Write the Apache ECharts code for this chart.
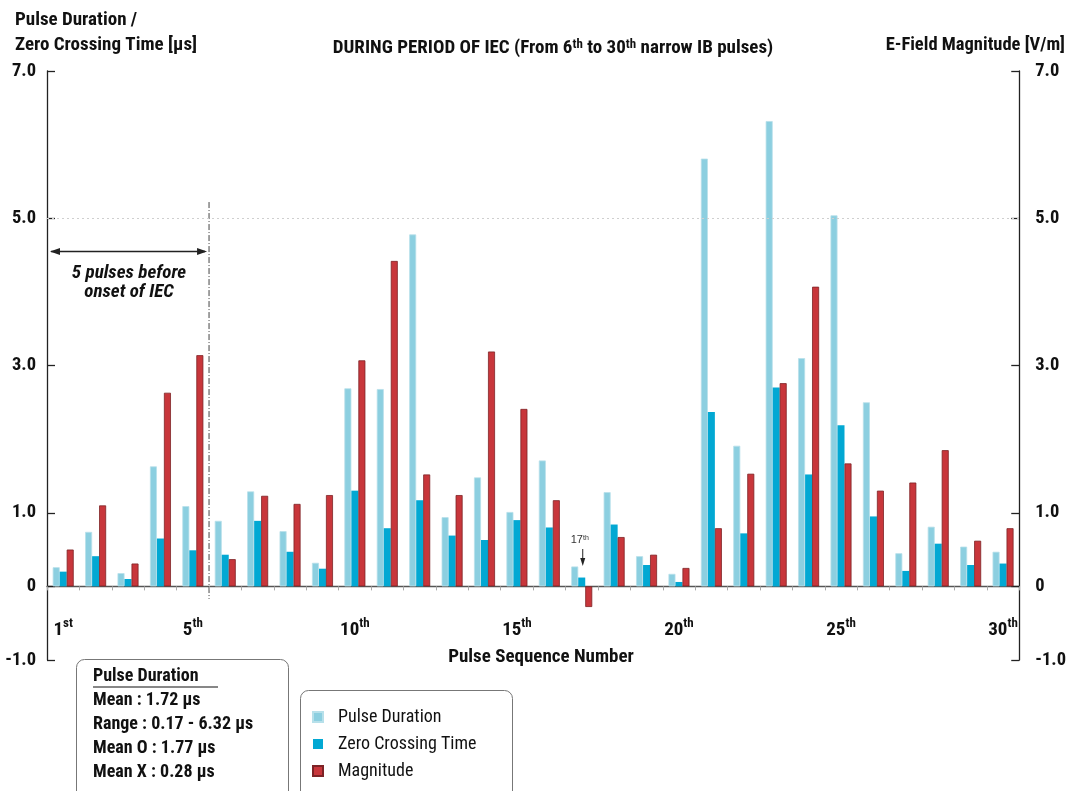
<!DOCTYPE html>
<html>
<head>
<meta charset="utf-8">
<script src="https://cdn.jsdelivr.net/npm/echarts@6/dist/echarts.min.js"></script>
<style>
  html, body { margin: 0; padding: 0; background: #fff; }
  #chart { width: 1069px; height: 791px; }
</style>
</head>
<body>
<div id="chart"></div>
<script>
// Pulse sequence numbers (categories)
const pulseNumbers = ['1','2','3','4','5','6','7','8','9','10','11','12','13','14','15',
                      '16','17','18','19','20','21','22','23','24','25','26','27','28','29','30'];
// Pulse numbers that get an ordinal label under the axis
const labelledPulses = [1, 5, 10, 15, 20, 25, 30];

// Pulse duration [µs]
const pulseDuration = [0.26, 0.74, 0.18, 1.63, 1.09, 0.89, 1.29, 0.75, 0.32, 2.69,
                       2.68, 4.78, 0.94, 1.48, 1.01, 1.71, 0.27, 1.28, 0.41, 0.17,
                       5.81, 1.91, 6.32, 3.10, 5.04, 2.50, 0.45, 0.81, 0.54, 0.47];
// Zero crossing time [µs]
const zeroCrossing = [0.20, 0.41, 0.10, 0.65, 0.49, 0.43, 0.89, 0.47, 0.24, 1.30,
                      0.79, 1.17, 0.69, 0.63, 0.90, 0.80, 0.12, 0.84, 0.29, 0.06,
                      2.37, 0.72, 2.70, 1.52, 2.19, 0.95, 0.21, 0.58, 0.29, 0.31];
// E-field magnitude [V/m]
const magnitude = [0.50, 1.10, 0.31, 2.63, 3.14, 0.37, 1.23, 1.12, 1.24, 3.07,
                   4.42, 1.52, 1.24, 3.19, 2.41, 1.17, -0.28, 0.67, 0.43, 0.25,
                   0.79, 1.53, 2.76, 4.07, 1.67, 1.30, 1.41, 1.85, 0.62, 0.79];

// Value axis range and ticks (both sides share the same scale)
const yMin = -1;
const yMax = 7;
const yTicks = [-1, 0, 1, 3, 5, 7];

// Summary statistics for pulse duration
const statsTitle = 'Pulse Duration';
const statsLines = ['Mean : 1.72 µs', 'Range : 0.17 - 6.32 µs', 'Mean O : 1.77 µs', 'Mean X : 0.28 µs'];

const FONT = "'Liberation Sans Narrow','Arial Narrow','Roboto Condensed','Liberation Sans',sans-serif";
const C_LIGHT = '#8ccfe0';
const C_DARK = '#02a8d3';
const C_RED = '#c8363b';

const GRID = { left: 47, right: 42, top: 71, bottom: 131 };
const plotHeight = 791 - GRID.top - GRID.bottom;
// the category axis sits on the zero line: shift it up from the grid bottom
const zeroOffset = -plotHeight * (0 - yMin) / (yMax - yMin);

function suffix(n) { return n === 1 ? 'st' : n === 2 ? 'nd' : n === 3 ? 'rd' : 'th'; }

const chart = echarts.init(document.getElementById('chart'), null, { renderer: 'canvas' });

const valueAxis = (pos, margin) => ({
  type: 'value',
  position: pos,
  min: yMin,
  max: yMax,
  interval: 1,
  axisLine: { show: true, onZero: false, lineStyle: { color: '#222', width: 1.3 } },
  axisTick: { show: true, inside: true, length: 8, customValues: yTicks, lineStyle: { color: '#222', width: 1.3 } },
  axisLabel: {
    customValues: yTicks,
    margin: margin,
    fontFamily: FONT, fontSize: 18.5, fontWeight: 'bold', color: '#111',
    formatter: v => (v === 0 ? '0' : v.toFixed(1))
  },
  splitLine: { show: false }
});

const bar = (name, data, color, border, axis) => ({
  name, type: 'bar', data, yAxisIndex: axis,
  barWidth: 7, barGap: '0%',
  itemStyle: { color, borderColor: border, borderWidth: border ? 0.8 : 0 },
  emphasis: { disabled: true },
  animation: false
});

const option = {
  backgroundColor: '#fff',
  animation: false,
  grid: Object.assign({ containLabel: false }, GRID),
  xAxis: {
    type: 'category',
    data: pulseNumbers,
    position: 'bottom',
    offset: zeroOffset,
    axisLine: { onZero: false, lineStyle: { color: '#555', width: 1.3 } },
    axisTick: { show: true, interval: 0, length: 4, lineStyle: { color: '#aaa' } },
    axisLabel: {
      margin: 31,
      interval: (i) => labelledPulses.indexOf(i + 1) >= 0,
      formatter: (v) => '{n|' + v + '}{s|' + suffix(+v) + '}',
      rich: {
        n: { fontFamily: FONT, fontSize: 19, fontWeight: 'bold', color: '#111', lineHeight: 22, verticalAlign: 'bottom' },
        s: { fontFamily: FONT, fontSize: 13, fontWeight: 'bold', color: '#111', verticalAlign: 'top', lineHeight: 12 }
      }
    },
    splitLine: { show: false }
  },
  yAxis: [valueAxis('left', 11), valueAxis('right', 16)],
  legend: {
    orient: 'vertical',
    left: 307,
    top: 703,
    itemWidth: 10,
    itemHeight: 10,
    itemGap: 9,
    icon: 'rect',
    selectedMode: false,
    textStyle: { fontFamily: FONT, fontSize: 18, color: '#111', padding: [0, 0, 0, 10] },
    data: ['Pulse Duration', 'Zero Crossing Time', 'Magnitude']
  },
  series: [
    Object.assign(bar('Pulse Duration', pulseDuration, C_LIGHT, '#b7e0ea', 0), {
      markLine: {
        silent: true, symbol: 'none', label: { show: false },
        lineStyle: { color: '#cfcfcf', type: [2, 3], width: 1 },
        data: [{ yAxis: 5 }]
      }
    }),
    bar('Zero Crossing Time', zeroCrossing, C_DARK, null, 0),
    bar('Magnitude', magnitude, C_RED, '#7d2326', 1)
  ]
};

chart.setOption(option);

// Annotation geometry derived from the axes
const xAt = (i) => chart.convertToPixel({ xAxisIndex: 0 }, i);
const yAt = (v) => chart.convertToPixel({ yAxisIndex: 0 }, v);
const leftEdge = GRID.left;
const onsetX = (xAt(4) + xAt(5)) / 2;     // boundary between the 5th and 6th pulse
const arrowY = yAt(4.55);
const p17x = xAt(16);

const headL = (x, y) => ({ type: 'polygon', shape: { points: [[x, y], [x + 10, y - 3.5], [x + 10, y + 3.5]] }, style: { fill: '#222' } });
const headR = (x, y) => ({ type: 'polygon', shape: { points: [[x, y], [x - 10, y - 3.5], [x - 10, y + 3.5]] }, style: { fill: '#222' } });

const txt = (x, y, text, extra) => ({
  type: 'text', x, y,
  style: Object.assign({ text, fontFamily: FONT, fontSize: 18, fontWeight: 'bold', fill: '#111', verticalAlign: 'middle' }, extra || {})
});

const graphics = [
  // axis titles and chart title
  txt(15, 20, 'Pulse Duration /', { fontSize: 19 }),
  txt(15, 45, 'Zero Crossing Time [µs]', { fontSize: 19 }),
  txt(1065, 45, 'E-Field Magnitude [V/m]', { fontSize: 18.5, align: 'right' }),
  {
    type: 'text', x: 553, y: 48,
    style: {
      text: 'DURING PERIOD OF IEC (From 6{s|th} to 30{s|th} narrow IB pulses)',
      fontFamily: FONT, fontSize: 19, fontWeight: 'bold', fill: '#111',
      align: 'center', verticalAlign: 'middle',
      rich: { s: { fontFamily: FONT, fontSize: 13, fontWeight: 'bold', fill: '#111', verticalAlign: 'top', lineHeight: 12 } }
    }
  },
  txt(541, 657, 'Pulse Sequence Number', { fontSize: 19, align: 'center' }),

  // onset of IEC: dash-dot divider and span arrow
  { type: 'line', shape: { x1: onsetX, y1: yAt(5.22), x2: onsetX, y2: yAt(-0.17) },
    style: { stroke: '#444', lineWidth: 1, lineDash: [6, 2, 1, 2] } },
  { type: 'line', shape: { x1: leftEdge + 4, y1: arrowY, x2: onsetX - 4, y2: arrowY }, style: { stroke: '#222', lineWidth: 1.5 } },
  headL(leftEdge + 3, arrowY),
  headR(onsetX - 2, arrowY),
  txt(129, 273, '5 pulses before', { fontSize: 19, fontStyle: 'italic', align: 'center' }),
  txt(129, 292, 'onset of IEC', { fontSize: 19, fontStyle: 'italic', align: 'center' }),

  // 17th pulse marker
  {
    type: 'text', x: p17x - 2, y: 540,
    style: {
      text: '17{s|th}', fontFamily: 'Liberation Sans, sans-serif', fontSize: 11, fill: '#333',
      align: 'center', verticalAlign: 'middle',
      rich: { s: { fontFamily: 'Liberation Sans, sans-serif', fontSize: 7, fill: '#333', verticalAlign: 'top', lineHeight: 7 } }
    }
  },
  { type: 'line', shape: { x1: p17x + 1, y1: 549, x2: p17x + 1, y2: 560 }, style: { stroke: '#222', lineWidth: 1 } },
  { type: 'polygon', shape: { points: [[p17x + 1, 566], [p17x - 1.5, 558], [p17x + 3.5, 558]] }, style: { fill: '#222' } },

  // statistics box
  { type: 'rect', shape: { x: 76.5, y: 659.5, width: 212, height: 150, r: 8 }, style: { fill: '#fff', stroke: '#777', lineWidth: 1 } },
  txt(93, 676, statsTitle),
  { type: 'line', shape: { x1: 93, y1: 687, x2: 218, y2: 687 }, style: { stroke: '#111', lineWidth: 1.2 } },
  // legend frame
  { type: 'rect', shape: { x: 300.5, y: 690.5, width: 212, height: 120, r: 8 }, style: { fill: '#fff', stroke: '#777', lineWidth: 1 }, z: -1 }
];
statsLines.forEach((s, i) => graphics.push(txt(93, 700 + i * 24.3, s)));

chart.setOption({ graphic: graphics });
</script>
</body>
</html>
